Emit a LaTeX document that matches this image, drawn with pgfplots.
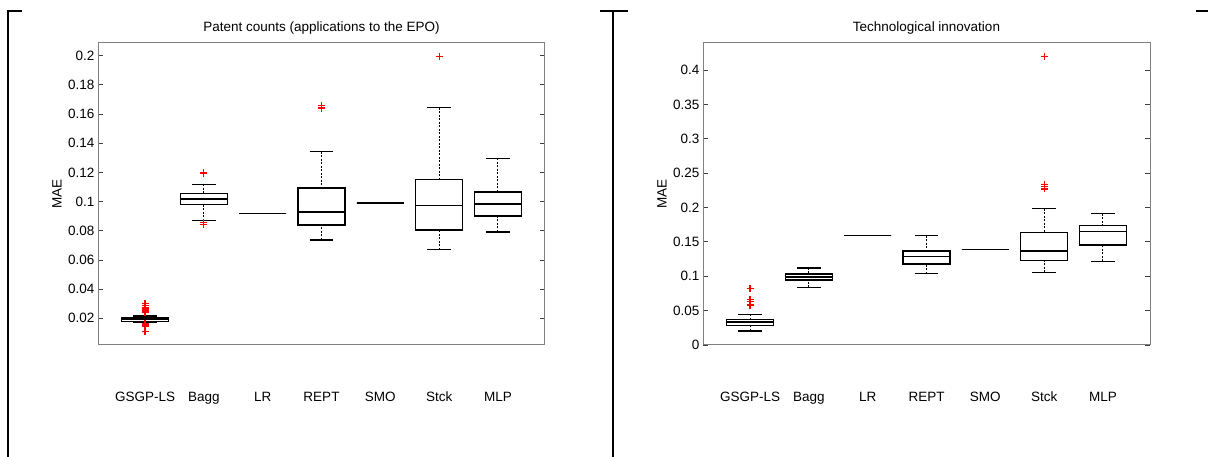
\documentclass[border=0pt]{standalone}
\usepackage{fontspec}
\setmainfont{Liberation Sans}
\usepackage{pgfplots}
\pgfplotsset{compat=1.18}
\usepgfplotslibrary{statistics}

\pgfplotsset{
  boxplot/draw/lower whisker/.code={%
    \draw[black, line width=1pt, dash pattern=on 2pt off 1.5pt]
      (boxplot cs:\pgfplotsboxplotvalue{lower whisker}) -- (boxplot cs:\pgfplotsboxplotvalue{lower quartile});
    \draw[black, solid, line width=1.5pt]
      (boxplot whisker cs:\pgfplotsboxplotvalue{lower whisker},0) -- (boxplot whisker cs:\pgfplotsboxplotvalue{lower whisker},1);
  },
  boxplot/draw/upper whisker/.code={%
    \draw[black, line width=1pt, dash pattern=on 2pt off 1.5pt]
      (boxplot cs:\pgfplotsboxplotvalue{upper whisker}) -- (boxplot cs:\pgfplotsboxplotvalue{upper quartile});
    \draw[black, solid, line width=1.5pt]
      (boxplot whisker cs:\pgfplotsboxplotvalue{upper whisker},0) -- (boxplot whisker cs:\pgfplotsboxplotvalue{upper whisker},1);
  },
  mybox/.style={
    scale only axis, width=447pt, height=302pt,
    xmin=0.2, xmax=7.8,
    xtick={1,2,3,4,5,6,7},
    xticklabels={GSGP-LS,Bagg,LR,REPT,SMO,Stck,MLP},
    xtick style={draw=none},
    xticklabel style={anchor=base, yshift=-57pt},
    tick align=inside,
    major tick length=5pt,
    ytick style={black!75, line width=0.8pt},
    axis line style={black!50, line width=1pt},
    font=\fontsize{13.5}{16}\selectfont,
    ticklabel style={font=\fontsize{13.5}{16}\selectfont},
    /pgf/number format/assume math mode=true,
    scaled y ticks=false,
    yticklabel style={/pgf/number format/fixed, /pgf/number format/precision=2},
    ylabel=MAE,
    ylabel style={at={(axis description cs:-0.0917,0.5)}, anchor=center},
    title style={at={(axis description cs:0.5,1.0298)}, anchor=center},
  },
  mybp/.style={
    black, solid, line width=1.5pt, mark=+, mark size=3.5pt,
    mark options={red, line width=1.2pt, solid},
    boxplot/draw direction=y,
    boxplot/box extend=0.8,
    boxplot/whisker extend=0.4,
    boxplot/every box/.style={draw=black, solid, line width=1.5pt},
    boxplot/every median/.style={draw=black, solid, line width=1.5pt},
  },
}

\begin{document}
\begin{tikzpicture}
\useasboundingbox (0pt,0pt) rectangle (1208pt,457pt);
\draw[black, line width=1.2pt] (8pt,0pt) -- (8pt,446pt) -- (22pt,446pt);
\draw[black, line width=1.2pt] (613pt,0pt) -- (613pt,446pt);
\draw[black, line width=1.2pt] (600pt,446pt) -- (628pt,446pt);
\draw[black, line width=1.2pt] (1196pt,446pt) -- (1208pt,446pt);

\begin{axis}[mybox, at={(98pt,112pt)}, anchor=south west,
  ymin=0.0017, ymax=0.2087,
  ytick={0.02,0.04,0.06,0.08,0.1,0.12,0.14,0.16,0.18,0.2},
  title={Patent counts (applications to the EPO)}]
\addplot[mybp, boxplot prepared={draw position=1, lower whisker=0.0172, lower quartile=0.0178, median=0.0195, upper quartile=0.0205, upper whisker=0.0215}]
  table[row sep=\\, y index=0] {y\\ 0.0303\\ 0.0285\\ 0.027\\ 0.0257\\ 0.0247\\ 0.0242\\ 0.0237\\ 0.0166\\ 0.016\\ 0.0155\\ 0.015\\ 0.0145\\ 0.0108\\};
\addplot[mybp, boxplot prepared={draw position=2, lower whisker=0.0869, lower quartile=0.0979, median=0.1016, upper quartile=0.1054, upper whisker=0.1118}]
  table[row sep=\\, y index=0] {y\\ 0.1198\\ 0.1192\\ 0.0855\\ 0.0843\\};
\addplot[mybp, boxplot prepared={draw position=3, lower whisker=0.0917, lower quartile=0.0917, median=0.0917, upper quartile=0.0917, upper whisker=0.0917}]
  coordinates {};
\addplot[mybp, boxplot prepared={draw position=4, lower whisker=0.0737, lower quartile=0.084, median=0.0927, upper quartile=0.1093, upper whisker=0.1342}]
  table[row sep=\\, y index=0] {y\\ 0.166\\ 0.1641\\};
\addplot[mybp, boxplot prepared={draw position=5, lower whisker=0.099, lower quartile=0.099, median=0.099, upper quartile=0.099, upper whisker=0.099}]
  coordinates {};
\addplot[mybp, boxplot prepared={draw position=6, lower whisker=0.067, lower quartile=0.0805, median=0.0972, upper quartile=0.1153, upper whisker=0.1644}]
  table[row sep=\\, y index=0] {y\\ 0.1993\\};
\addplot[mybp, boxplot prepared={draw position=7, lower whisker=0.0792, lower quartile=0.09, median=0.0983, upper quartile=0.1066, upper whisker=0.1297}]
  coordinates {};
\end{axis}

\begin{axis}[mybox, at={(703pt,112pt)}, anchor=south west,
  ymin=0, ymax=0.4393,
  ytick={0,0.05,0.1,0.15,0.2,0.25,0.3,0.35,0.4},
  title={Technological innovation}]
\addplot[mybp, boxplot prepared={draw position=1, lower whisker=0.0204, lower quartile=0.0286, median=0.0335, upper quartile=0.0369, upper whisker=0.0446}]
  table[row sep=\\, y index=0] {y\\ 0.0825\\ 0.066\\ 0.0635\\ 0.059\\ 0.057\\};
\addplot[mybp, boxplot prepared={draw position=2, lower whisker=0.0839, lower quartile=0.0945, median=0.099, upper quartile=0.1033, upper whisker=0.112}]
  coordinates {};
\addplot[mybp, boxplot prepared={draw position=3, lower whisker=0.159, lower quartile=0.159, median=0.159, upper quartile=0.159, upper whisker=0.159}]
  coordinates {};
\addplot[mybp, boxplot prepared={draw position=4, lower whisker=0.1038, lower quartile=0.1178, median=0.1285, upper quartile=0.1367, upper whisker=0.159}]
  coordinates {};
\addplot[mybp, boxplot prepared={draw position=5, lower whisker=0.1387, lower quartile=0.1387, median=0.1387, upper quartile=0.1387, upper whisker=0.1387}]
  coordinates {};
\addplot[mybp, boxplot prepared={draw position=6, lower whisker=0.1057, lower quartile=0.1227, median=0.1367, upper quartile=0.1639, upper whisker=0.1983}]
  table[row sep=\\, y index=0] {y\\ 0.4194\\ 0.234\\ 0.2305\\ 0.227\\};
\addplot[mybp, boxplot prepared={draw position=7, lower whisker=0.1217, lower quartile=0.1455, median=0.1653, upper quartile=0.1736, upper whisker=0.191}]
  coordinates {};
\end{axis}
\end{tikzpicture}
\end{document}
